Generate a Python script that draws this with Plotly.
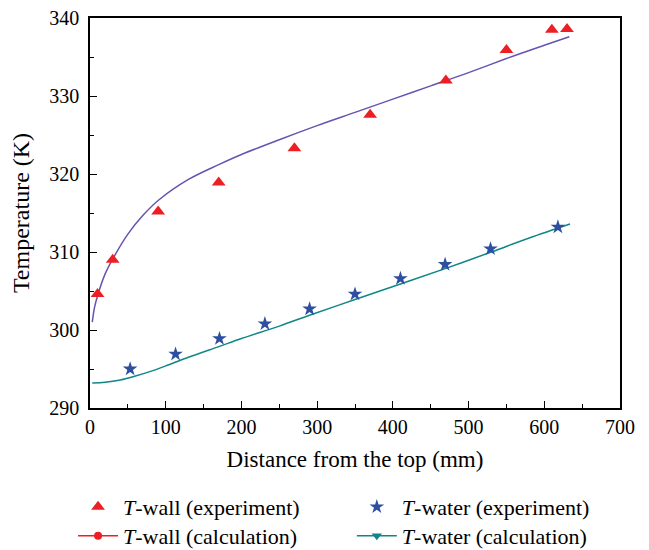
import plotly.graph_objects as go

# Measured wall temperature (experiment)
wall_exp_x = [10, 30, 90, 170, 270, 370, 470, 550, 610, 630]
wall_exp_y = [304.6, 309.0, 315.2, 318.9, 323.3, 327.6, 332.0, 335.9, 338.5, 338.6]

# Measured water temperature (experiment)
water_exp_x = [53, 113, 171, 231, 290, 350, 410, 469, 529, 618]
water_exp_y = [295.0, 296.9, 298.9, 300.8, 302.7, 304.6, 306.6, 308.4, 310.4, 313.2]

# Calculated wall temperature profile
wall_calc_x = [3, 6, 10, 20, 30, 50, 70, 90, 130, 170, 200, 250, 300, 350, 400, 450, 500, 550, 600, 633]
wall_calc_y = [301.0, 302.9, 304.4, 307.2, 309.1, 312.3, 314.7, 316.6, 319.3, 321.2, 322.5, 324.4, 326.2, 327.9, 329.6, 331.3, 333.0, 334.8, 336.5, 337.6]

# Calculated water temperature profile
water_calc_x = [3, 20, 40, 60, 80, 100, 130, 171, 200, 250, 290, 350, 410, 470, 530, 580, 634]
water_calc_y = [293.2, 293.3, 293.6, 294.1, 294.7, 295.4, 296.5, 297.9, 298.9, 300.5, 301.9, 303.9, 305.9, 307.9, 310.0, 311.8, 313.6]

RED = "rgb(237,30,36)"
BLUE = "rgb(46,78,162)"
PURPLE = "rgb(104,82,178)"
TEAL = "rgb(16,134,134)"
FONT = "Liberation Serif"

fig = go.Figure()

fig.add_trace(go.Scatter(
    x=wall_calc_x, y=wall_calc_y, mode="lines", line=dict(color=PURPLE, width=1.5, shape="spline"),
    showlegend=False, hoverinfo="skip"))
fig.add_trace(go.Scatter(
    x=water_calc_x, y=water_calc_y, mode="lines", line=dict(color=TEAL, width=1.5, shape="spline"),
    showlegend=False, hoverinfo="skip"))

fig.add_trace(go.Scatter(
    x=wall_exp_x, y=wall_exp_y, mode="markers",
    marker=dict(symbol="triangle-up", size=12, color=RED),
    name="<i>T</i>-wall (experiment)", legend="legend"))
fig.add_trace(go.Scatter(
    x=water_exp_x, y=water_exp_y, mode="markers",
    marker=dict(symbol="star", size=11, color=BLUE),
    name="<i>T</i>-water (experiment)", legend="legend2"))

# Legend entries for the calculated profiles
fig.add_trace(go.Scatter(
    x=[None], y=[None], mode="lines+markers",
    line=dict(color=RED, width=1.5), marker=dict(symbol="circle", size=8, color=RED),
    name="<i>T</i>-wall (calculation)", legend="legend3"))
fig.add_trace(go.Scatter(
    x=[None], y=[None], mode="lines+markers",
    line=dict(color=TEAL, width=1.5), marker=dict(symbol="triangle-down", size=9, color=TEAL),
    name="<i>T</i>-water (calculation)", legend="legend4"))

axis_common = dict(
    showgrid=False, zeroline=False, showline=True, linecolor="black", linewidth=1.5,
    mirror=True, ticks="inside", ticklen=7, tickwidth=1.2, tickcolor="black",
    tickfont=dict(family=FONT, size=20, color="black"),
)

fig.update_xaxes(
    range=[0, 700], dtick=100, tick0=0,
    minor=dict(dtick=50, ticks="inside", ticklen=4, tickwidth=1.2, tickcolor="black"),
    title=dict(text="Distance from the top (mm)", font=dict(family=FONT, size=23, color="black"), standoff=14),
    **axis_common)
fig.update_yaxes(
    range=[290, 340], dtick=10, tick0=290, ticklabelstandoff=5,
    minor=dict(dtick=5, ticks="inside", ticklen=4, tickwidth=1.2, tickcolor="black"),
    title=dict(text="Temperature (K)", font=dict(family=FONT, size=24, color="black"), standoff=13),
    **axis_common)

legend_common = dict(
    font=dict(family=FONT, size=22, color="black"),
    bgcolor="rgba(0,0,0,0)", orientation="v", yanchor="top", xanchor="left",
    tracegroupgap=0, itemwidth=40,
)

ROW1, ROW2 = -0.200, -0.274
COL1, COL2 = -0.032, 0.494

fig.update_layout(
    width=649, height=550,
    margin=dict(l=90, r=29, t=18, b=142, autoexpand=False),
    plot_bgcolor="white", paper_bgcolor="white",
    font=dict(family=FONT, color="black"),
    legend=dict(x=COL1, y=ROW1, **legend_common),
    legend2=dict(x=COL2, y=ROW1, **legend_common),
    legend3=dict(x=COL1, y=ROW2, **legend_common),
    legend4=dict(x=COL2, y=ROW2, **legend_common),
)

fig.write_html("out.html")
